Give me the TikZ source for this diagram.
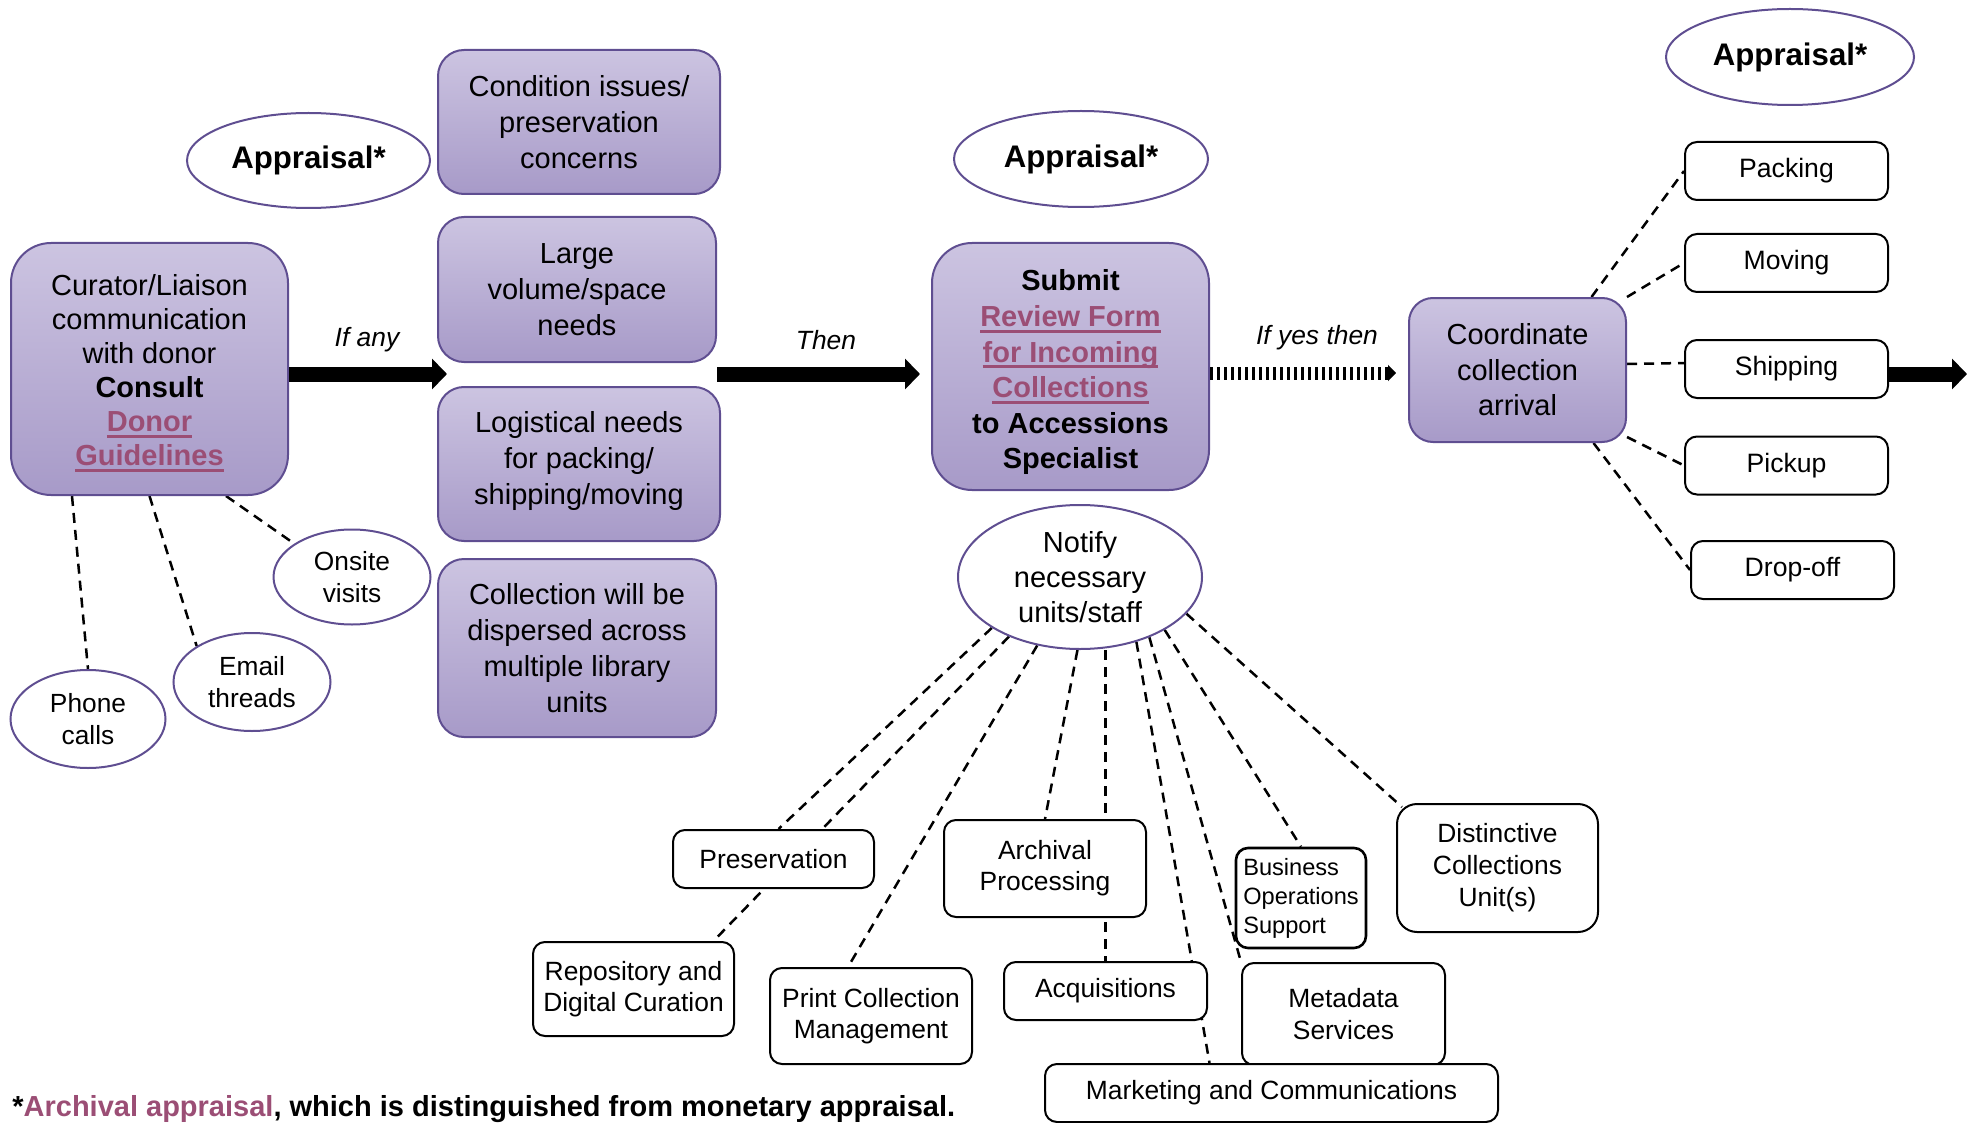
\documentclass[tikz,border=0pt]{standalone}
\usepackage{fontspec}
\setmainfont{Liberation Sans}
\usetikzlibrary{shapes.geometric,arrows.meta,backgrounds}
\definecolor{pTop}{RGB}{204,196,225}
\definecolor{pBot}{RGB}{167,154,200}
\definecolor{pBorder}{RGB}{95,78,145}
\definecolor{linkc}{RGB}{155,78,117}
\newsavebox\ulbox
\newcommand{\lnk}[1]{\leavevmode{\color{linkc}\sbox\ulbox{#1}\rlap{\rule[-3pt]{\wd\ulbox}{1.5pt}}\usebox\ulbox}}
\begin{document}
\begin{tikzpicture}[x=0.5pt,y=-0.5pt,
  pbox/.style={draw=pBorder,line width=1pt,top color=pTop,bottom color=pBot,rounded corners=13pt,align=center,inner sep=0pt,font=\fontsize{14.5}{18}\selectfont},
  wbox/.style={draw=black,line width=1pt,fill=white,rounded corners=6pt,align=center,inner sep=0pt,font=\fontsize{13.2}{15.5}\selectfont},
  oval/.style={ellipse,draw=pBorder,line width=1pt,fill=white,inner sep=0pt,align=center},
  smalloval/.style={oval,font=\fontsize{13.15}{16}\selectfont},
  appr/.style={oval,font=\bfseries\fontsize{15.6}{18}\selectfont},
  dline/.style={line width=1.25pt,dash pattern=on 5pt off 3.5pt},
  bigarrow/.style={line width=7.5pt,-{Triangle[length=7.5pt,width=15pt]}},
  dotarrow/.style={line width=6.5pt,dash pattern=on 1.7pt off 1.8pt,-{Triangle[length=4pt,width=8pt]}},
  lab/.style={font=\itshape\fontsize{13.2}{15}\selectfont}
]
\useasboundingbox (0,0) rectangle (1975,1123);

% left part
\node[pbox,minimum width=138.5pt,minimum height=126pt,rounded corners=20pt,font=\fontsize{14.5}{17}\selectfont] (cur) at (149.5,369)
  {\rule{0pt}{14.5pt}Curator/Liaison\\communication\\with donor\\\textbf{Consult}\\\textbf{\lnk{Donor}}\\\textbf{\lnk{Guidelines}}};
\node[appr,minimum width=121.5pt,minimum height=47.5pt] (appL) at (308.5,160.5) {Appraisal*};
\node[smalloval,minimum width=78.5pt,minimum height=47.5pt] (onsite) at (352,577) {Onsite\\visits};
\node[smalloval,minimum width=78.5pt,minimum height=49pt] (email) at (252,682) {Email\\threads};
\node[smalloval,minimum width=77.5pt,minimum height=49pt] (phone) at (88,719) {Phone\\calls};

% middle column
\node[pbox,minimum width=141pt,minimum height=72pt] (m1) at (579,122) {Condition issues/\\preservation\\concerns};
\node[pbox,minimum width=139pt,minimum height=72.5pt] (m2) at (577,289.5) {Large\\volume/space\\needs};
\node[pbox,minimum width=141pt,minimum height=77pt] (m3) at (579,464) {Logistical needs\\for packing/\\shipping/moving\rule[-6pt]{0pt}{0pt}};
\node[pbox,minimum width=139pt,minimum height=89pt] (m4) at (577,648) {Collection will be\\dispersed across\\multiple library\\units};

% submit
\node[appr,minimum width=127pt,minimum height=48pt] (appM) at (1081,159) {Appraisal*};
\node[pbox,minimum width=138.5pt,minimum height=123.5pt,rounded corners=20pt,font=\bfseries\fontsize{14.5}{17.8}\selectfont] (sub) at (1070.5,366.5)
  {\rule{0pt}{16.5pt}Submit\\\lnk{Review Form}\\\lnk{for Incoming}\\\lnk{Collections}\\to Accessions\\Specialist};
\node[oval,minimum width=122pt,minimum height=72pt,font=\fontsize{14.5}{17.5}\selectfont] (notify) at (1080,577) {Notify\\necessary\\units/staff};

% bottom boxes
\node[wbox,minimum width=100.5pt,minimum height=29pt] (pres) at (773.5,859) {Preservation};
\node[wbox,minimum width=100.5pt,minimum height=47pt] (repo) at (633.5,989) {Repository and\\Digital Curation};
\node[wbox,minimum width=101pt,minimum height=48pt] (print) at (871,1016) {Print Collection\\Management};
\node[wbox,minimum width=101pt,minimum height=48.5pt] (arch) at (1045,868.5) {Archival\\Processing};
\node[wbox,minimum width=101.5pt,minimum height=29pt] (acq) at (1105.5,991) {Acquisitions};
\node[wbox,line width=1.3pt,minimum width=65pt,minimum height=50pt,align=left,font=\fontsize{11.8}{14.5}\selectfont] (bus) at (1301,898) {Business\\Operations\\Support};
\node[wbox,minimum width=101.5pt,minimum height=51pt,font=\fontsize{13.2}{16}\selectfont] (meta) at (1343.5,1014) {Metadata\\Services};
\node[wbox,minimum width=100.5pt,minimum height=64pt,rounded corners=10pt,font=\fontsize{13.2}{16}\selectfont] (dist) at (1497.5,868) {Distinctive\\Collections\\Unit(s)};
\node[wbox,minimum width=226.5pt,minimum height=29pt] (mark) at (1271.5,1093) {Marketing and Communications};

% right part
\node[appr,minimum width=124pt,minimum height=48pt] (appR) at (1790,57) {Appraisal*};
\node[pbox,minimum width=108.5pt,minimum height=72pt,rounded corners=12pt,font=\fontsize{14.5}{17.75}\selectfont] (coord) at (1517.5,370) {Coordinate\\collection\\arrival};
\node[wbox,font=\fontsize{13.3}{15.5}\selectfont,minimum width=101.5pt,minimum height=29pt] (pack) at (1786.5,171) {Packing};
\node[wbox,font=\fontsize{13.3}{15.5}\selectfont,minimum width=101.5pt,minimum height=29pt] (mov) at (1786.5,263) {Moving};
\node[wbox,font=\fontsize{13.3}{15.5}\selectfont,minimum width=101.5pt,minimum height=29pt] (ship) at (1786.5,369) {Shipping};
\node[wbox,font=\fontsize{13.3}{15.5}\selectfont,minimum width=101.5pt,minimum height=29pt] (pick) at (1786.5,465.5) {Pickup};
\node[wbox,font=\fontsize{13.3}{15.5}\selectfont,minimum width=101.5pt,minimum height=29pt] (drop) at (1792.5,570) {Drop-off};

% labels
\node[lab] (lbl1) at (367,340) {If any};
\node[lab] (lbl2) at (826,340) {Then};
\node[lab] (lbl3) at (1317,338) {If yes then};

% arrows
\coordinate (a1) at (447,374);
\coordinate (a2) at (920,374);
\coordinate (a3) at (1396,373);
\coordinate (a4) at (1967,374);
\draw[bigarrow] (cur.east |- a1) -- (a1);
\draw[bigarrow] (m2.east |- a2) -- (a2);
\draw[dotarrow] (sub.east |- a3) -- (a3);
\draw[bigarrow] (ship.east |- a4) -- (a4);

% footnote
\node[anchor=base west,inner sep=0pt,font=\bfseries\fontsize{14.5}{17}\selectfont] (foot) at (12,1116)
  {*\textcolor{linkc}{Archival appraisal}, which is distinguished from monetary appraisal.};

% dashed connectors
\begin{pgfonlayer}{background}
\draw[dline] ([xshift=31pt]cur.south west) -- (phone.north);
\draw[dline] (cur.south) -- (email.147);
\draw[dline] ([xshift=108pt]cur.south west) -- (onsite.150);
\draw[dline] (notify.210) -- ([xshift=2.5pt]pres.north);
\draw[dline] (notify.220) -- ([xshift=40pt]repo.north);
\draw[dline] (notify.238) -- ([xshift=-11.5pt]print.north);
\draw[dline] (notify.268) -- (arch.north);
\draw[dline] (acq.north |- notify.south) -- (acq.north);
\draw[dline] (notify.311) -- ([xshift=-31pt]mark.north);
\draw[dline] (notify.319) -- (meta.north west);
\draw[dline] (notify.328) -- (bus.north);
\draw[dline] (notify.341) -- ([xshift=3pt,yshift=-2pt]dist.north west);
\draw[dline] ([xshift=37pt]coord.north) -- (pack.west);
\draw[dline] (coord.north east) -- (mov.west);
\draw[dline] ([yshift=3pt]coord.east) -- ([yshift=3pt]ship.west);
\draw[dline] ([yshift=3pt]coord.south east) -- (pick.west);
\draw[dline] ([xshift=38pt]coord.south) -- (drop.west);
\end{pgfonlayer}
\end{tikzpicture}
\end{document}
